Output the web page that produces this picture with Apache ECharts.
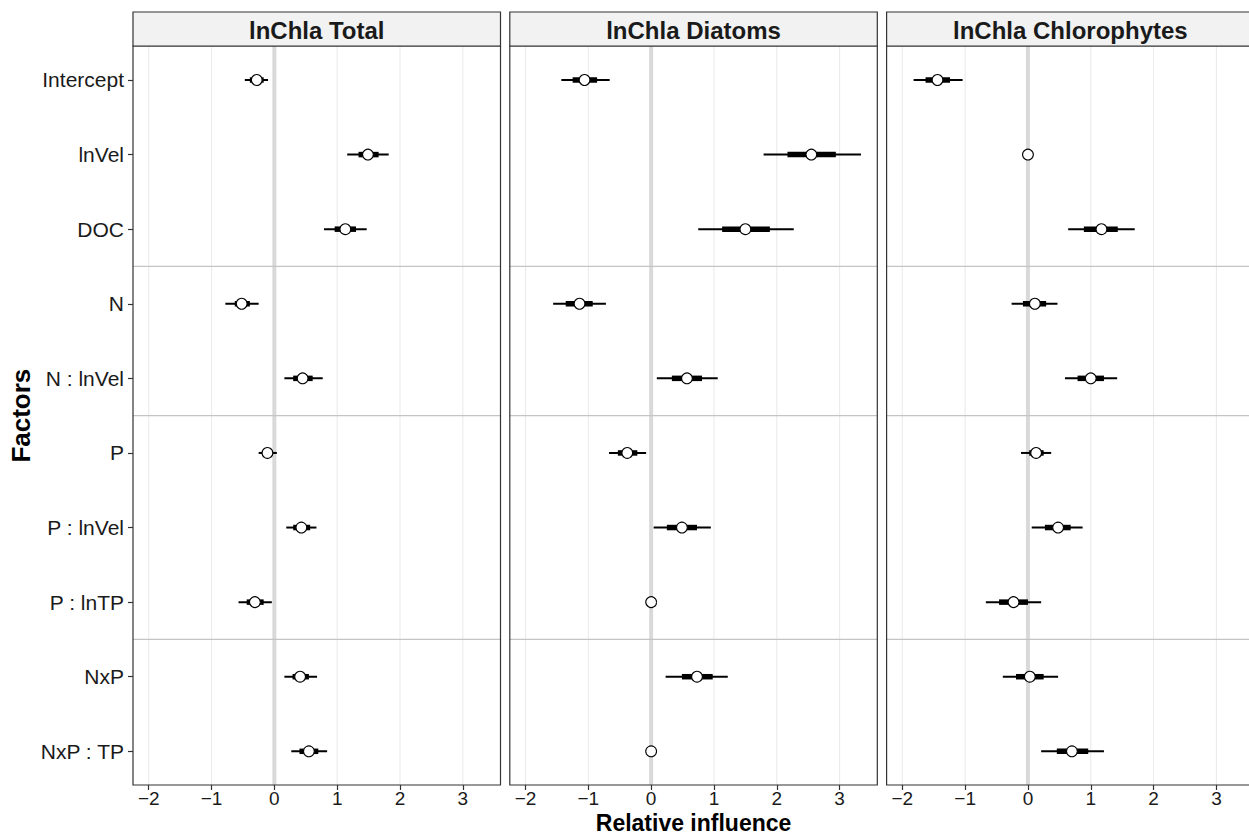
<!DOCTYPE html>
<html>
<head>
<meta charset="utf-8">
<script src="https://cdn.jsdelivr.net/npm/echarts@6/dist/echarts.min.js"></script>
<style>
  html, body { margin: 0; padding: 0; background: #ffffff; }
  #chart { width: 1249px; height: 836px; }
</style>
</head>
<body>
<div id="chart"></div>
<script>
// Model terms, top to bottom
const factors = ['Intercept', 'lnVel', 'DOC', 'N', 'N : lnVel', 'P', 'P : lnVel', 'P : lnTP', 'NxP', 'NxP : TP'];
// A grey rule is drawn below each of these terms
const separatorsAfter = ['DOC', 'N : lnVel', 'P : lnTP'];
const xTicks = [-2, -1, 0, 1, 2, 3];
const panelTitles = ['lnChla Total', 'lnChla Diatoms', 'lnChla Chlorophytes'];

// Posterior medians, inner (thick) and outer (thin) credible intervals
const totalMedian = [-0.28, 1.49, 1.13, -0.52, 0.45, -0.11, 0.43, -0.31, 0.41, 0.55];
const totalInner  = [[-0.39, -0.17], [1.34, 1.66], [0.96, 1.30], [-0.63, -0.39], [0.30, 0.61],
                     [-0.18, -0.03], [0.30, 0.57], [-0.44, -0.17], [0.29, 0.55], [0.40, 0.70]];
const totalOuter  = [[-0.47, -0.10], [1.16, 1.82], [0.79, 1.47], [-0.78, -0.25], [0.16, 0.77],
                     [-0.25, 0.04], [0.19, 0.67], [-0.57, -0.04], [0.16, 0.68], [0.27, 0.84]];

const diatomMedian = [-1.06, 2.55, 1.50, -1.14, 0.57, -0.38, 0.49, 0, 0.73, 0];
const diatomInner  = [[-1.25, -0.86], [2.17, 2.94], [1.13, 1.89], [-1.36, -0.93], [0.33, 0.81],
                      [-0.53, -0.22], [0.25, 0.73], [0, 0], [0.49, 0.98], [0, 0]];
const diatomOuter  = [[-1.43, -0.66], [1.79, 3.34], [0.75, 2.27], [-1.56, -0.72], [0.09, 1.06],
                      [-0.67, -0.08], [0.04, 0.95], [0, 0], [0.23, 1.22], [0, 0]];

const chloroMedian = [-1.44, 0, 1.17, 0.11, 1.00, 0.13, 0.48, -0.23, 0.03, 0.70];
const chloroInner  = [[-1.63, -1.24], [0, 0], [0.89, 1.43], [-0.08, 0.29], [0.79, 1.21],
                      [0.02, 0.25], [0.27, 0.68], [-0.46, 0.00], [-0.19, 0.25], [0.46, 0.96]];
const chloroOuter  = [[-1.82, -1.04], [0, 0], [0.64, 1.70], [-0.26, 0.47], [0.59, 1.42],
                      [-0.11, 0.37], [0.06, 0.87], [-0.67, 0.21], [-0.40, 0.48], [0.21, 1.21]];

const panels = [
  { median: totalMedian,  inner: totalInner,  outer: totalOuter },
  { median: diatomMedian, inner: diatomInner, outer: diatomOuter },
  { median: chloroMedian, inner: chloroInner, outer: chloroOuter }
];

// Layout
const FONT = '"Liberation Sans", Arial, Helvetica, sans-serif';
const PANEL_LEFT = [133, 509.8, 886.6];
const PANEL_W = 367.5;
const STRIP_TOP = 12;
const PANEL_TOP = 46;
const PANEL_BOTTOM = 785;
const GRID_TOP = 42.7;       // category bands are a bit taller than the framed panel
const GRID_H = 745.9;
const X_MIN = -2.25, X_MAX = 3.6;

const fmtTick = v => (v < 0 ? '\u2212' + Math.abs(v) : String(v));

const grids = [], xAxes = [], yAxes = [], series = [], graphics = [];

panels.forEach((p, i) => {
  grids.push({ left: PANEL_LEFT[i], top: GRID_TOP, width: PANEL_W, height: GRID_H,
               containLabel: false, outerBoundsMode: 'none' });

  xAxes.push({
    type: 'value', gridIndex: i, min: X_MIN, max: X_MAX,
    offset: PANEL_BOTTOM - (GRID_TOP + GRID_H),
    axisLine: { show: false, onZero: false },
    axisTick: { show: true, customValues: xTicks, length: 5, lineStyle: { color: '#333333', width: 1.2 } },
    axisLabel: { show: true, customValues: xTicks, formatter: fmtTick, fontSize: 19,
                 fontFamily: FONT, color: '#1a1a1a', margin: 4 },
    splitLine: { show: false },
    name: i === 1 ? 'Relative influence' : '',
    nameLocation: 'middle', nameGap: 26, nameMoveOverlap: false,
    nameTextStyle: { fontSize: 23, fontWeight: 'bold', fontFamily: FONT, color: '#000000' }
  });

  yAxes.push({
    type: 'category', gridIndex: i, data: factors, inverse: true,
    axisLine: { show: false, onZero: false },
    axisTick: { show: i === 0, alignWithLabel: true, length: 5, lineStyle: { color: '#333333', width: 1.2 } },
    axisLabel: { show: i === 0, fontSize: 21, fontFamily: FONT, color: '#1a1a1a', margin: 9 },
    splitLine: { show: false },
    name: i === 0 ? 'Factors' : '',
    nameLocation: 'middle', nameGap: 99,
    nameTextStyle: { fontSize: 26, fontWeight: 'bold', fontFamily: FONT, color: '#000000' }
  });

  // Panel background: vertical grid lines, zero reference, group rules, frame
  series.push({
    type: 'custom', xAxisIndex: i, yAxisIndex: i, clip: false, silent: true, z: 1,
    data: [[0, 0]],
    renderItem: (params, api) => {
      const cs = params.coordSys;
      const children = [];
      xTicks.forEach(v => {
        const x = api.coord([v, 0])[0];
        children.push({ type: 'line', shape: { x1: x, y1: PANEL_TOP, x2: x, y2: PANEL_BOTTOM },
                        style: { stroke: '#ebebeb', lineWidth: 1.1 } });
      });
      const x0 = api.coord([0, 0])[0];
      children.push({ type: 'line', shape: { x1: x0, y1: PANEL_TOP, x2: x0, y2: PANEL_BOTTOM },
                      style: { stroke: '#d9d9d9', lineWidth: 4 } });
      separatorsAfter.forEach(name => {
        const k = factors.indexOf(name);
        const y = (api.coord([0, k])[1] + api.coord([0, k + 1])[1]) / 2;
        children.push({ type: 'line', shape: { x1: cs.x, y1: y, x2: cs.x + cs.width, y2: y },
                        style: { stroke: '#c4c4c4', lineWidth: 1.3 } });
      });
      children.push({ type: 'rect', shape: { x: cs.x, y: PANEL_TOP, width: cs.width, height: PANEL_BOTTOM - PANEL_TOP },
                      style: { fill: 'none', stroke: '#333333', lineWidth: 1.2 } });
      return { type: 'group', children };
    }
  });

  // Interval marks with median points
  series.push({
    type: 'custom', xAxisIndex: i, yAxisIndex: i, clip: false, z: 3,
    encode: { x: [1, 2, 3, 4, 5], y: 0 },
    data: factors.map((f, k) => [k, p.median[k], p.inner[k][0], p.inner[k][1], p.outer[k][0], p.outer[k][1]]),
    renderItem: (params, api) => {
      const k = api.value(0);
      const pm = api.coord([api.value(1), k]);
      const i0 = api.coord([api.value(2), k]), i1 = api.coord([api.value(3), k]);
      const o0 = api.coord([api.value(4), k]), o1 = api.coord([api.value(5), k]);
      const children = [];
      if (o1[0] > o0[0]) {
        children.push({ type: 'line', shape: { x1: o0[0], y1: o0[1], x2: o1[0], y2: o1[1] },
                        style: { stroke: '#000000', lineWidth: 2 } });
      }
      if (i1[0] > i0[0]) {
        children.push({ type: 'line', shape: { x1: i0[0], y1: i0[1], x2: i1[0], y2: i1[1] },
                        style: { stroke: '#000000', lineWidth: 5.5 } });
      }
      children.push({ type: 'circle', shape: { cx: pm[0], cy: pm[1], r: 5.4 },
                      style: { fill: '#ffffff', stroke: '#000000', lineWidth: 1.1 } });
      return { type: 'group', children };
    }
  });

  // Facet strip
  graphics.push({
    type: 'rect', z: 20,
    shape: { x: PANEL_LEFT[i], y: STRIP_TOP, width: PANEL_W, height: PANEL_TOP - STRIP_TOP },
    style: { fill: '#f2f2f2', stroke: '#333333', lineWidth: 1.2 }
  });
  graphics.push({
    type: 'text', z: 21,
    x: PANEL_LEFT[i] + PANEL_W / 2, y: (STRIP_TOP + PANEL_TOP) / 2 + 1,
    style: { text: panelTitles[i], fill: '#1a1a1a', font: 'bold 24px ' + FONT,
             align: 'center', verticalAlign: 'middle', textAlign: 'center', textVerticalAlign: 'middle' }
  });
});

const chart = echarts.init(document.getElementById('chart'), null, { renderer: 'svg' });
chart.setOption({
  backgroundColor: '#ffffff',
  animation: false,
  grid: grids,
  xAxis: xAxes,
  yAxis: yAxes,
  series: series,
  graphic: graphics
});
</script>
</body>
</html>
